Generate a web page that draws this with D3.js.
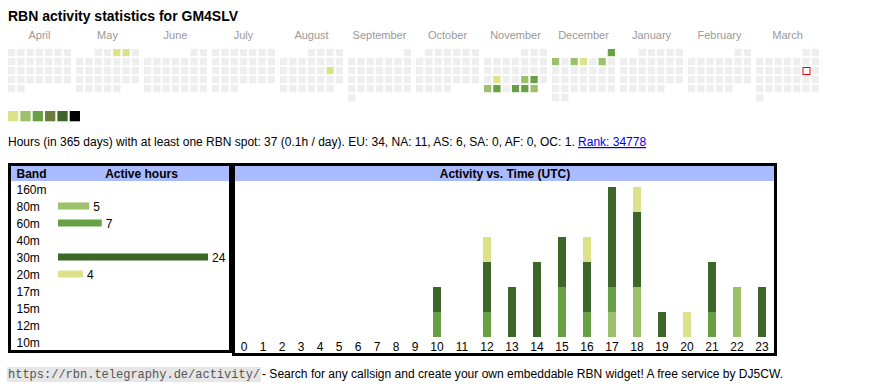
<!DOCTYPE html>
<html><head><meta charset="utf-8">
<script src="https://cdn.jsdelivr.net/npm/d3@7"></script>
<style>body{margin:0;background:#fff}svg{display:block}svg{font-family:Arial,"Liberation Sans",sans-serif}</style>
</head><body>
<script>
// ---------- data ----------
const title = "RBN activity statistics for GM4SLV";
const months = ["April","May","June","July","August","September","October","November","December","January","February","March"];
const monthStarts = ["2024-04-01","2024-05-01","2024-06-01","2024-07-01","2024-08-01","2024-09-01","2024-10-01","2024-11-01","2024-12-01","2025-01-01","2025-02-01","2025-03-01"];
const activeDays = ["2024-05-03","2024-05-04","2024-08-17","2024-11-19","2024-11-22","2024-11-23","2024-11-25","2024-11-26","2024-11-28","2024-11-29","2024-11-30","2024-12-01","2024-12-02","2024-12-04","2024-12-05","2024-12-07"];
const activeLevels = [1,1,1,1,2,3,2,3,3,3,2,3,2,2,1,2];
const today = "2025-03-15";
const levelColors = ["#dbe28a","#9dc06a","#68a046","#6b7c3c","#3d6629","#000000"];

const summary = "Hours (in 365 days) with at least one RBN spot: 37 (0.1h / day). EU: 34, NA: 11, AS: 6, SA: 0, AF: 0, OC: 1. ";
const rankText = "Rank: 34778";

const bands = ["160m","80m","60m","40m","30m","20m","17m","15m","12m","10m"];
const bandHours = [0,5,7,0,24,4,0,0,0,0];
const bandColors = ["#b0b0b0","#9dc06a","#68a046","#a6c88a","#3d6629","#dbe28a","#c9a74a","#d98a3a","#c25b5b","#8f5fb0"];

const hours = d3.range(24).map(String);
// active hours per UTC hour, by band
const h80 = [0,0,0,0,0,0,0,0,0,0,0,0,0,0,0,0,0,1,2,0,0,0,2,0];
const h60 = [0,0,0,0,0,0,0,0,0,0,1,0,1,0,0,2,1,1,0,0,0,1,0,0];
const h30 = [0,0,0,0,0,0,0,0,0,0,1,0,2,2,3,2,2,4,3,1,0,2,0,2];
const h20 = [0,0,0,0,0,0,0,0,0,0,0,0,1,0,0,0,1,0,1,0,1,0,0,0];
const hourSeries = [{band:"80m",v:h80},{band:"60m",v:h60},{band:"30m",v:h30},{band:"20m",v:h20}];

const footUrl = "https://rbn.telegraphy.de/activity/";
const footText = "- Search for any callsign and create your own embeddable RBN widget! A free service by DJ5CW.";

// ---------- drawing ----------
const svg = d3.select("body").append("svg").attr("width",870).attr("height",390);

svg.append("text").attr("x",8).attr("y",21).attr("font-size",14).attr("font-weight","bold").attr("fill","#000").text(title);

// calendar
const parse = d3.timeParse("%Y-%m-%d");
const monthX = d3.scaleLinear().domain([0,1]).range([8,76]);
const colX = d3.scaleBand().domain(d3.range(7)).range([0,63]).paddingInner(2/9);
const rowY = d3.scaleLinear().domain([0,1]).range([49,58]);
const levelColor = d3.scaleOrdinal().domain([1,2,3,4,5,6]).range(levelColors);
const activeMap = new Map(activeDays.map((d,i)=>[d,activeLevels[i]]));
const fmt = d3.timeFormat("%Y-%m-%d");
const dow = d => (d.getDay()+6)%7;

const cal = svg.append("g");
months.forEach((m,mi)=>{
  const start = parse(monthStarts[mi]);
  const end = d3.timeMonth.offset(start,1);
  const days = d3.timeDay.range(start,end);
  const off = dow(start);
  cal.append("text").attr("x",monthX(mi)+31.5).attr("y",39).attr("text-anchor","middle")
    .attr("font-size",11).attr("fill","#999").text(m);
  cal.selectAll(null).data(days).enter().append("rect")
    .attr("x",d=>monthX(mi)+colX(dow(d)))
    .attr("y",d=>rowY(Math.floor((d.getDate()-1+off)/7)))
    .attr("width",colX.bandwidth()).attr("height",colX.bandwidth())
    .attr("fill",d=>{const l=activeMap.get(fmt(d));return l?levelColor(l):"#eeeeee";})
    .each(function(d){ if(fmt(d)===today){ d3.select(this).attr("fill","#fff").attr("stroke","#e00").attr("stroke-width",1)
        .attr("x",+d3.select(this).attr("x")+0.5).attr("y",+d3.select(this).attr("y")+0.5).attr("width",7).attr("height",7);} });
});

// legend
const legX = d3.scaleBand().domain(d3.range(6)).range([8,80]).paddingInner(2/12);
svg.selectAll(".leg").data(levelColors).enter().append("rect")
  .attr("x",(d,i)=>legX(i)).attr("y",111).attr("width",legX.bandwidth()).attr("height",legX.bandwidth()).attr("fill",d=>d);

// summary
const st = svg.append("text").attr("x",8).attr("y",146).attr("font-size",12).attr("fill","#000");
st.append("tspan").text(summary);
st.append("tspan").attr("fill","#0000ee").attr("text-decoration","underline").text(rankText);

// left table
const lt = svg.append("g");
lt.append("rect").attr("x",10).attr("y",165).attr("width",221).attr("height",16).attr("fill","#aabbff");
lt.append("rect").attr("x",9.5).attr("y",164.5).attr("width",221).attr("height",187).attr("fill","none").attr("stroke","#000").attr("stroke-width",3);
lt.append("text").attr("x",16.5).attr("y",177.5).attr("font-size",12).attr("font-weight","bold").text("Band");
lt.append("text").attr("x",141.5).attr("y",177.5).attr("text-anchor","middle").attr("font-size",12).attr("font-weight","bold").text("Active hours");
const bandY = d3.scalePoint().domain(bands).range([189,342]);
const hx = d3.scaleLinear().domain([0,24]).range([58,208]);
const bandColor = d3.scaleOrdinal().domain(bands).range(bandColors);
lt.selectAll(".bl").data(bands).enter().append("text").attr("x",16.5).attr("y",d=>bandY(d)+4.5).attr("font-size",12).text(d=>d);
const nz = bands.map((b,i)=>({b,v:bandHours[i]})).filter(d=>d.v>0);
lt.selectAll(".bb").data(nz).enter().append("rect").attr("x",hx(0)).attr("y",d=>bandY(d.b)-3.5)
  .attr("width",d=>hx(d.v)-hx(0)).attr("height",7).attr("fill",d=>bandColor(d.b));
lt.selectAll(".bv").data(nz).enter().append("text").attr("x",d=>hx(d.v)+4).attr("y",d=>bandY(d.b)+4.5).attr("font-size",12).text(d=>d.v);

// right panel
const rp = svg.append("g");
rp.append("rect").attr("x",234).attr("y",165).attr("width",542).attr("height",16).attr("fill","#aabbff");
rp.append("rect").attr("x",233.5).attr("y",164.5).attr("width",542).attr("height",190).attr("fill","none").attr("stroke","#000").attr("stroke-width",3);
rp.append("text").attr("x",505).attr("y",177.5).attr("text-anchor","middle").attr("font-size",12).attr("font-weight","bold").text("Activity vs. Time (UTC)");

// hour columns: auto-width table cells (label width + padding)
let acc = 234.5; const centers = [];
hours.forEach(h=>{ const w = h.length===1?19:25; centers.push(acc+w/2); acc+=w; });
const xh = d3.scaleOrdinal().domain(hours).range(centers);
const yv = d3.scaleLinear().domain([0,6]).range([337,187]);
const stack = d3.stack().keys(hourSeries.map(s=>s.band));
const rows = hours.map((h,i)=>{const o={h}; hourSeries.forEach(s=>o[s.band]=s.v[i]); return o;});
const layers = stack(rows);
rp.selectAll(".layer").data(layers).enter().append("g").attr("fill",d=>bandColor(d.key))
  .selectAll("rect").data(d=>d.filter(p=>p[1]>p[0])).enter().append("rect")
  .attr("x",d=>xh(d.data.h)-4).attr("width",8)
  .attr("y",d=>yv(d[1])).attr("height",d=>yv(d[0])-yv(d[1]));
rp.selectAll(".hl").data(hours).enter().append("text").attr("x",d=>xh(d)).attr("y",350.5)
  .attr("text-anchor","middle").attr("font-size",12).text(d=>d);

// footer
const fg = svg.append("g");
const ft = fg.append("text").attr("x",8).attr("y",378).style("font-family","'Liberation Mono','DejaVu Sans Mono',monospace").attr("font-size",12).attr("fill","#555").text(footUrl);
const fw = ft.node().getComputedTextLength();
fg.insert("rect","text").attr("x",7).attr("y",367).attr("width",fw+2).attr("height",15).attr("fill","#e6e6e6");
fg.append("text").attr("x",262).attr("y",378).attr("font-size",12).attr("textLength",521).attr("lengthAdjust","spacingAndGlyphs").text(footText);
</script>
</body></html>
